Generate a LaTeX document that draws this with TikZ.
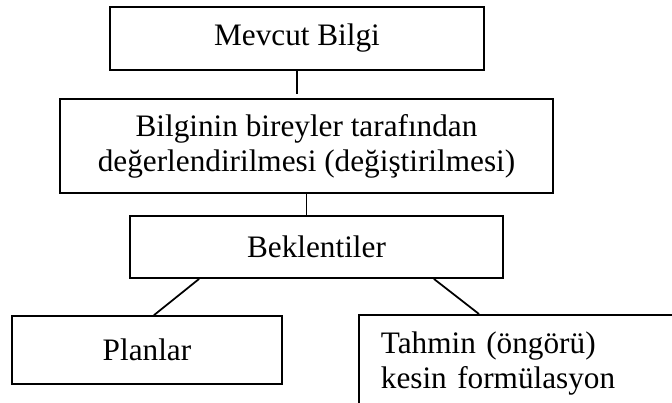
\documentclass[tikz,border=0pt]{standalone}
\usepackage{fontspec}
\setmainfont{Liberation Serif}
\usetikzlibrary{positioning}

\begin{document}
\begin{tikzpicture}[x=0.4pt, y=-0.4pt, line width=0.7pt, every node/.style={draw, rectangle, inner sep=0pt, font=\fontsize{12.5}{14}\selectfont}]
        \clip (0,0) rectangle (672,402);

        % Existing knowledge at the top
        \node (mevcut) [minimum width=149.6pt, minimum height=25.2pt] at (297,38.5) {Mevcut Bilgi};

        % Evaluation by individuals
        \node (deger) [minimum width=197.2pt, minimum height=37.6pt, align=center] at (306.5,146)
        {Bilginin bireyler tarafından\\değerlendirilmesi (değiştirilmesi)};

        % Expectations
        \node (beklenti) [minimum width=149.2pt, minimum height=24.8pt] at (316.5,247) {Beklentiler};

        % The two outcomes
        \node (planlar) [minimum width=108pt, minimum height=27.2pt] at (147,350) {Planlar};
        \node (tahmin) [anchor=north west, text width=120pt, inner xsep=8.8pt, minimum height=39.2pt, align=left] at (358,314)
        {Tahmin (öngörü)\\kesin formülasyon};

        % Connecting lines
        \draw[shorten >=1.6pt] (mevcut.south) -- (mevcut.south |- deger.north);
        \draw (deger.south) -- (deger.south |- beklenti.north);
        \draw ([xshift=28pt]beklenti.south west) -- ([xshift=2.8pt]planlar.north);
        \draw ([xshift=-28pt]beklenti.south east) -- ([xshift=48.4pt]tahmin.north west);
      \end{tikzpicture}
\end{document}
